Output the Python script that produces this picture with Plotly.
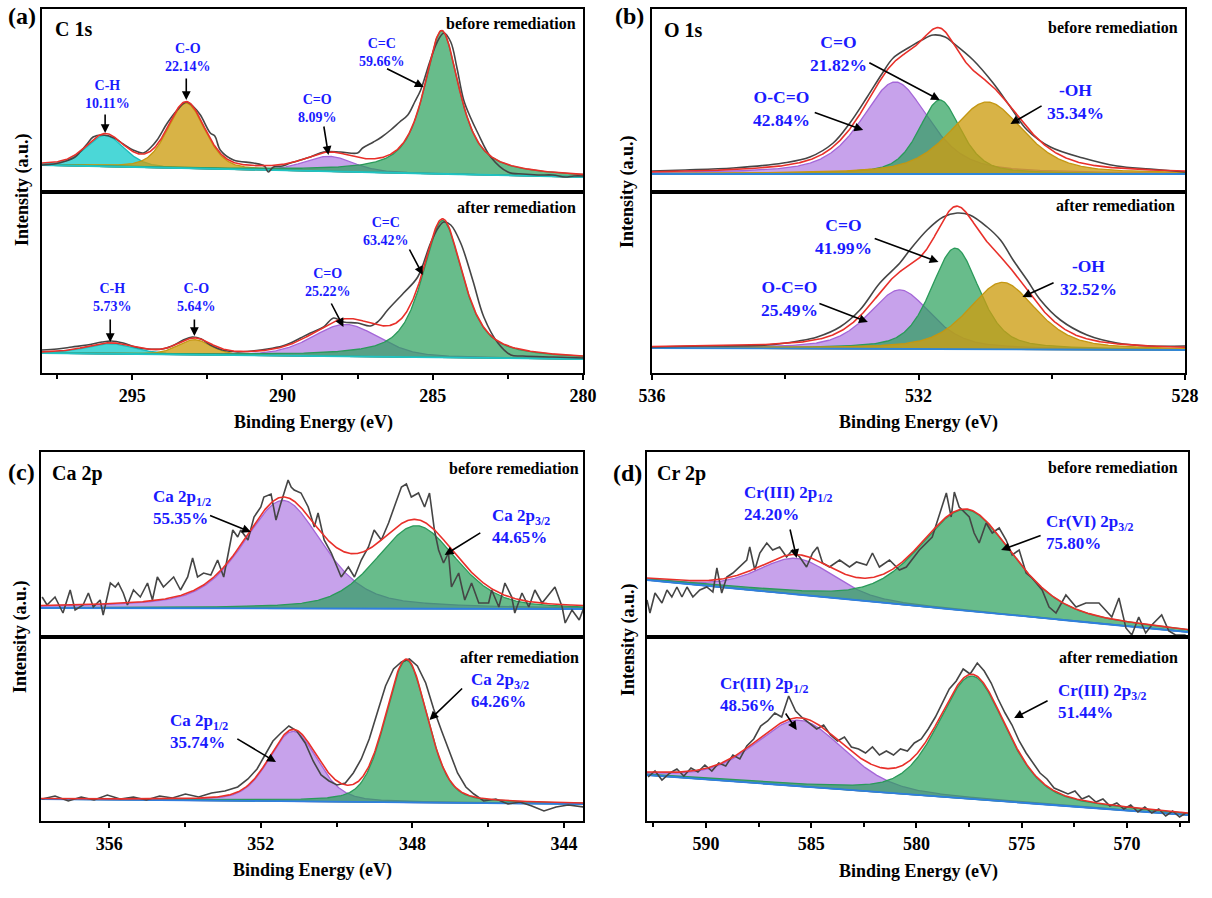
import numpy as np
import plotly.graph_objects as go

FONT = "Liberation Serif, Times New Roman, serif"
LABEL_BLUE = "#1a1aff"

# ======================= DATA =======================
# ---------- (a) C 1s ----------
a_range = [298.0, 280.0]
a_colors = ["cyan", "gold", "purple", "green"]
a_names = ["C-H", "C-O", "C=O", "C=C"]
a1_pct = ["10.11%", "22.14%", "8.09%", "59.66%"]
a1_center = [295.9, 293.2, 288.45, 284.7]
a1_height = [31, 65, 15, 143]
a1_fwhm = [1.5, 1.45, 1.9, 1.4]
a1_mix = [0.3, 0.3, 0.3, 0.8]
a1_bg = [27, 15]
a1_exp_E = [298.0, 297.6, 297.2, 296.9, 296.73, 296.5, 296.3, 295.97, 295.6, 295.3,
            294.97, 294.63, 294.4, 294.17, 293.83, 293.5, 293.2, 292.95, 292.73, 292.4,
            292.25, 292.07, 291.63, 290.97, 290.6, 290.47, 290.3, 290.0, 289.73, 289.07,
            288.63, 288.07, 287.5, 287.33, 286.97, 286.7, 286.4, 286.1, 285.83, 285.6,
            285.4, 285.1, 284.85, 284.63, 284.4, 284.2, 283.97, 283.75, 283.5, 283.07,
            282.5, 282.0, 281.5, 281.0, 280.6, 280.3, 280.0]
a1_exp_I = [27, 28, 31, 35, 40, 48, 55, 57, 54, 48,
            42, 39, 44, 52, 69, 82, 90, 85, 77, 59,
            56, 42, 32, 29, 26, 20, 25, 26, 29, 35,
            40, 40, 39, 44, 50, 55, 62, 70, 77, 90,
            102, 130, 150, 159, 150, 125, 92, 75, 59, 35,
            20, 18, 17, 17, 15, 16, 16]

a2_pct = ["5.73%", "5.64%", "25.22%", "63.42%"]
a2_center = [295.73, 292.93, 287.9, 284.67]
a2_height = [10, 15, 32, 137]
a2_fwhm = [1.9, 1.3, 2.6, 1.6]
a2_mix = [0.3, 0.3, 0.3, 0.7]
a2_bg = [20, 14]
a2_exp_E = [298.0, 297.5, 297.0, 296.5, 296.0, 295.7, 295.3, 294.9, 294.5, 294.0,
            293.6, 293.3, 293.0, 292.7, 292.4, 292.0, 291.5, 291.0, 290.5, 290.0,
            289.73, 289.4, 289.07, 288.63, 288.3, 287.97, 287.5, 287.07, 286.8, 286.5,
            285.97, 285.5, 285.07, 284.8, 284.63, 284.4, 284.07, 283.67, 283.3, 282.83,
            282.4, 282.0, 281.0, 280.0]
a2_exp_I = [23, 24, 26, 28, 31, 32, 30, 26, 24, 24,
            28, 33, 36, 34, 28, 23, 21, 22, 24, 27,
            30, 35, 40, 46, 55, 51, 50, 47, 52, 63,
            80, 96, 130, 146, 151, 148, 130, 93, 56, 30,
            18, 17, 16, 15]

# ---------- (b) O 1s ----------
b_range = [536.0, 528.0]
b_colors = ["purple", "green", "gold"]
b_names = ["O-C=O", "C=O", "-OH"]
b1_pct = ["42.84%", "21.82%", "35.34%"]
b1_center = [532.35, 531.68, 530.97]
b1_height = [92, 74, 72]
b1_fwhm = [1.2, 0.75, 1.3]
b1_mix = [0.55, 0.5, 0.5]
b1_bg = [18, 18]
b1_exp_E = [536.0, 535.5, 534.78, 534.03, 533.63, 533.28, 533.03, 532.77, 532.55, 532.38,
            532.13, 531.95, 531.78, 531.6, 531.48, 531.18, 530.88, 530.62, 530.37, 530.02,
            529.53, 529.02, 528.52, 528.0]
b1_exp_I = [21, 22, 24, 29, 35, 49, 69, 95, 118, 134,
            145, 152, 157, 155, 149, 132, 109, 85, 62, 45,
            34, 26, 23, 20]

b2_pct = ["25.49%", "41.99%", "32.52%"]
b2_center = [532.28, 531.45, 530.74]
b2_height = [59, 101, 67]
b2_fwhm = [1.1, 0.85, 1.2]
b2_mix = [0.5, 0.45, 0.5]
b2_bg = [25, 23]
b2_exp_E = [536.0, 535.2, 534.27, 533.8, 533.52, 533.18, 532.88, 532.58, 532.28, 532.13,
            531.87, 531.63, 531.42, 531.23, 530.97, 530.77, 530.58, 530.37, 530.17, 529.87,
            529.47, 529.02, 528.52, 528.0]
b2_exp_I = [26, 27, 28, 32, 36, 46, 63, 90, 110, 123,
            143, 156, 160, 158, 146, 133, 113, 93, 73, 53,
            38, 30, 27, 27]

# ---------- (c) Ca 2p ----------
c_range = [357.8, 343.5]
c_colors = ["purple", "green"]
c_names = ["Ca 2p<sub>1/2</sub>", "Ca 2p<sub>3/2</sub>"]
c1_pct = ["55.35%", "44.65%"]
c1_center = [351.42, 347.9]
c1_height = [108, 83]
c1_fwhm = [2.5, 2.5]
c1_mix = [0.5, 0.35]
c1_bg = [29, 28]
c1_exp_E = [357.77, 357.64, 357.43, 357.22, 357.03, 356.90, 356.69, 356.55, 356.42, 356.24,
            356.16, 355.97, 355.84, 355.76, 355.63, 355.52, 355.36, 355.18, 354.99, 354.86,
            354.73, 354.57, 354.30, 354.12, 353.93, 353.80, 353.67, 353.51, 353.32, 353.14,
            352.98, 352.85, 352.74, 352.61, 352.53, 352.34, 352.18, 352.00, 351.92, 351.73,
            351.60, 351.47, 351.28, 351.20, 351.12, 350.94, 350.75, 350.59, 350.49, 350.33,
            350.14, 349.88, 349.69, 349.53, 349.35, 349.16, 349.01, 348.82, 348.63, 348.48,
            348.29, 348.16, 348.03, 347.84, 347.68, 347.55, 347.42, 347.31, 347.18, 347.05,
            346.97, 346.78, 346.62, 346.44, 346.25, 345.99, 345.91, 345.72, 345.56, 345.38,
            345.30, 345.11, 344.93, 344.77, 344.58, 344.24, 344.05, 343.97, 343.79, 343.60,
            343.47]
c1_exp_I = [40, 32, 40, 24, 47, 27, 32, 44, 30, 37,
            22, 54, 50, 54, 44, 32, 47, 40, 54, 37,
            60, 50, 60, 47, 60, 79, 60, 64, 62, 77,
            60, 87, 107, 100, 107, 97, 120, 130, 140, 143,
            117, 134, 157, 150, 147, 144, 130, 110, 124, 97,
            84, 60, 70, 60, 77, 90, 107, 97, 114, 130,
            150, 153, 140, 144, 130, 144, 107, 87, 74, 84,
            50, 64, 37, 54, 34, 34, 47, 30, 54, 40,
            24, 44, 30, 47, 34, 50, 30, 14, 27, 17,
            30]

c2_pct = ["35.74%", "64.26%"]
c2_center = [351.15, 348.16]
c2_height = [70, 142]
c2_fwhm = [1.5, 1.3]
c2_mix = [0.3, 0.3]
c2_bg = [22, 17]
c2_exp_E = [357.77, 357.43, 357.08, 356.74, 356.40, 356.05, 355.71, 355.36, 355.02, 354.67,
            354.33, 353.99, 353.64, 353.30, 352.95, 352.61, 352.34, 352.10, 351.89, 351.68,
            351.47, 351.26, 351.05, 350.83, 350.62, 350.41, 350.20, 349.99, 349.77, 349.56,
            349.35, 349.14, 348.93, 348.71, 348.50, 348.29, 348.08, 347.87, 347.65, 347.44,
            347.23, 347.02, 346.81, 346.59, 346.38, 346.12, 345.80, 345.48, 345.16, 344.85,
            344.53, 344.21, 343.89, 343.47]
c2_exp_I = [22, 25, 20, 24, 21, 26, 22, 24, 21, 25,
            23, 27, 24, 28, 30, 34, 42, 52, 66, 80,
            88, 95, 90, 78, 60, 46, 40, 36, 38, 48,
            62, 82, 108, 135, 152, 159, 162, 155, 138, 112,
            90, 68, 48, 34, 27, 20, 22, 17, 19, 15,
            10, 14, 16, 14]

# ---------- (d) Cr 2p ----------
d_range = [592.8, 567.1]
d_colors = ["purple", "green"]
d1_names = ["Cr(III) 2p<sub>1/2</sub>", "Cr(VI) 2p<sub>3/2</sub>"]
d1_pct = ["24.20%", "75.80%"]
d1_center = [585.69, 577.63]
d1_height = [36, 101]
d1_fwhm = [4.2, 5.2]
d1_mix = [0.3, 0.4]
d1_bg = [57, 5]
d1_exp_E = [592.80, 592.66, 592.42, 592.09, 591.85, 591.62, 591.38, 591.14, 590.90, 590.62,
            590.29, 589.96, 589.67, 589.48, 589.25, 589.01, 588.72, 588.39, 588.06, 587.92,
            587.68, 587.44, 587.11, 586.83, 586.50, 586.17, 585.88, 585.55, 585.22, 584.93,
            584.70, 584.46, 584.13, 583.65, 583.18, 582.85, 582.37, 582.09, 581.76, 581.28,
            580.81, 580.48, 579.86, 579.25, 578.77, 578.58, 578.35, 578.20, 577.97, 577.49,
            577.26, 577.02, 576.69, 576.40, 576.07, 575.74, 575.45, 575.12, 574.79, 574.51,
            574.03, 573.70, 573.37, 572.90, 572.42, 571.95, 571.33, 570.72, 570.38, 570.05,
            569.77, 569.44, 569.11, 568.82, 568.35, 568.01, 567.69, 567.21]
d1_exp_I = [37, 24, 44, 34, 47, 40, 50, 40, 50, 40,
            47, 50, 45, 69, 44, 60, 64, 70, 77, 90,
            67, 84, 94, 87, 90, 80, 87, 80, 70, 84,
            90, 74, 70, 77, 70, 75, 72, 84, 70, 77,
            67, 70, 87, 100, 130, 144, 120, 145, 130, 120,
            104, 94, 114, 104, 109, 97, 82, 87, 64, 59,
            47, 30, 24, 42, 30, 34, 34, 20, 39, 9,
            2, 20, 4, 12, 22, 6, 2, 2]

d2_names = ["Cr(III) 2p<sub>1/2</sub>", "Cr(III) 2p<sub>3/2</sub>"]
d2_pct = ["48.56%", "51.44%"]
d2_center = [585.55, 577.35]
d2_height = [66, 123]
d2_fwhm = [5.0, 3.8]
d2_mix = [0.3, 0.4]
d2_bg = [46, 6]
d2_exp_E = [592.75, 592.42, 592.09, 591.71, 591.38, 591.05, 590.71, 590.38, 590.05, 589.72,
            589.39, 589.06, 588.72, 588.39, 588.06, 587.73, 587.40, 587.07, 586.73, 586.40,
            586.07, 585.74, 585.41, 585.08, 584.74, 584.41, 584.08, 583.75, 583.42, 583.09,
            582.75, 582.42, 582.09, 581.76, 581.43, 581.09, 580.76, 580.43, 580.10, 579.77,
            579.44, 579.10, 578.77, 578.44, 578.11, 577.78, 577.45, 577.11, 576.78, 576.45,
            576.12, 575.79, 575.46, 575.12, 574.79, 574.46, 574.13, 573.80, 573.46, 573.13,
            572.80, 572.47, 572.14, 571.81, 571.47, 571.14, 570.81, 570.48, 570.15, 569.82,
            569.48, 569.15, 568.82, 568.49, 568.16, 567.83, 567.50, 567.21]
d2_exp_I = [44, 50, 41, 48, 52, 45, 53, 49, 56, 50,
            58, 55, 66, 62, 75, 82, 95, 100, 108, 104,
            125, 110, 103, 98, 92, 96, 86, 80, 84, 74,
            72, 68, 74, 66, 70, 66, 72, 70, 78, 82,
            92, 104, 118, 132, 140, 152, 147, 158, 150, 138,
            122, 108, 96, 80, 68, 58, 48, 42, 33, 30,
            27, 30, 22, 25, 19, 22, 15, 18, 12, 16,
            9, 14, 8, 12, 5, 10, 4, 8]

# ======================= STYLE / LAYOUT =======================
FILLS = {
    "cyan": ("rgba(30,205,205,0.80)", "#1cbaba"),
    "gold": ("rgba(205,158,18,0.78)", "#c49712"),
    "purple": ("rgba(165,105,222,0.62)", "#a466d8"),
    "green": ("rgba(40,160,90,0.70)", "#2a9a5a"),
}
BG_COLOR = {"a": "#20c4c4", "b": "#2f86d8", "c": "#2f7fe0", "d": "#2f7fe0"}
W, H = 1212, 898


def pv(E, c, h, w, m):
    d = (E - c) / w
    return h * (m / (1 + 4 * d ** 2) + (1 - m) * np.exp(-4 * np.log(2) * d ** 2))


specs = [
    dict(k=1, p="a", xr=a_range, ypx=(9, 192), xpx=(42, 583), bottom=False,
         colors=a_colors, cen=a1_center, hgt=a1_height, fw=a1_fwhm, mx=a1_mix, bg=a1_bg,
         eE=a1_exp_E, eI=a1_exp_I, smooth=True),
    dict(k=2, p="a", xr=a_range, ypx=(192, 373), xpx=(42, 583), bottom=True,
         colors=a_colors, cen=a2_center, hgt=a2_height, fw=a2_fwhm, mx=a2_mix, bg=a2_bg,
         eE=a2_exp_E, eI=a2_exp_I, smooth=True),
    dict(k=3, p="b", xr=b_range, ypx=(9, 192), xpx=(652, 1185), bottom=False,
         colors=b_colors, cen=b1_center, hgt=b1_height, fw=b1_fwhm, mx=b1_mix, bg=b1_bg,
         eE=b1_exp_E, eI=b1_exp_I, smooth=True),
    dict(k=4, p="b", xr=b_range, ypx=(192, 373), xpx=(652, 1185), bottom=True,
         colors=b_colors, cen=b2_center, hgt=b2_height, fw=b2_fwhm, mx=b2_mix, bg=b2_bg,
         eE=b2_exp_E, eI=b2_exp_I, smooth=True),
    dict(k=5, p="c", xr=c_range, ypx=(452, 637), xpx=(41, 583), bottom=False,
         colors=c_colors, cen=c1_center, hgt=c1_height, fw=c1_fwhm, mx=c1_mix, bg=c1_bg,
         eE=c1_exp_E, eI=c1_exp_I, smooth=False),
    dict(k=6, p="c", xr=c_range, ypx=(637, 821), xpx=(41, 583), bottom=True,
         colors=c_colors, cen=c2_center, hgt=c2_height, fw=c2_fwhm, mx=c2_mix, bg=c2_bg,
         eE=c2_exp_E, eI=c2_exp_I, smooth=False),
    dict(k=7, p="d", xr=d_range, ypx=(452, 637), xpx=(647, 1188), bottom=False,
         colors=d_colors, cen=d1_center, hgt=d1_height, fw=d1_fwhm, mx=d1_mix, bg=d1_bg,
         eE=d1_exp_E, eI=d1_exp_I, smooth=False),
    dict(k=8, p="d", xr=d_range, ypx=(637, 821), xpx=(647, 1188), bottom=True,
         colors=d_colors, cen=d2_center, hgt=d2_height, fw=d2_fwhm, mx=d2_mix, bg=d2_bg,
         eE=d2_exp_E, eI=d2_exp_I, smooth=False),
]

TICKS = {"a": (5, 2.5), "b": (4, 2), "c": (4, 2), "d": (5, 2.5)}

fig = go.Figure()
layout = dict(width=W, height=H, margin=dict(l=0, r=0, t=0, b=0, pad=0, autoexpand=False),
              autosize=False, paper_bgcolor="white", plot_bgcolor="white", showlegend=False,
              font=dict(family=FONT, color="black"))

for s in specs:
    k = s["k"]
    xa = "x" if k == 1 else f"x{k}"
    ya = "y" if k == 1 else f"y{k}"
    E = np.linspace(s["xr"][0], s["xr"][1], 700)
    bg = s["bg"][0] + (s["bg"][1] - s["bg"][0]) * (E - s["xr"][0]) / (s["xr"][1] - s["xr"][0])
    total = np.zeros_like(E)
    for col, c, h, w, m in zip(s["colors"], s["cen"], s["hgt"], s["fw"], s["mx"]):
        comp = pv(E, c, h, w, m)
        total += comp
        fig.add_trace(go.Scatter(
            x=np.concatenate([E, E[::-1]]), y=np.concatenate([bg + comp, bg[::-1]]),
            xaxis=xa, yaxis=ya, mode="lines", fill="toself", fillcolor=FILLS[col][0],
            line=dict(color=FILLS[col][1], width=1.3), hoverinfo="skip"))
    fig.add_trace(go.Scatter(x=E, y=bg, xaxis=xa, yaxis=ya, mode="lines",
                             line=dict(color=BG_COLOR[s["p"]], width=1.8)))
    fig.add_trace(go.Scatter(x=s["eE"], y=s["eI"], xaxis=xa, yaxis=ya, mode="lines",
                             line=dict(color="#454545", width=1.6,
                                       shape="spline" if s["smooth"] else "linear")))
    fig.add_trace(go.Scatter(x=E, y=bg + total, xaxis=xa, yaxis=ya, mode="lines",
                             line=dict(color="#e8302a", width=1.6)))

    dtick, mtick = TICKS[s["p"]]
    h_px = s["ypx"][1] - s["ypx"][0]
    xaxis = dict(domain=[s["xpx"][0] / W, s["xpx"][1] / W], range=s["xr"], anchor=ya,
                 showline=True, mirror=True, linecolor="black", linewidth=2,
                 showgrid=False, zeroline=False, automargin=False)
    if s["bottom"]:
        xaxis.update(ticks="outside", ticklen=5, tickwidth=2, tickcolor="black",
                     tick0=0, dtick=dtick, showticklabels=True,
                     tickfont=dict(family=FONT, size=18, color="black", weight="bold"),
                     minor=dict(ticks="outside", ticklen=4, tickwidth=2, tickcolor="black",
                                tick0=0, dtick=mtick))
    else:
        xaxis.update(ticks="", showticklabels=False)
    yaxis = dict(domain=[1 - s["ypx"][1] / H, 1 - s["ypx"][0] / H], range=[0, h_px],
                 anchor=xa, showline=True, mirror=True, linecolor="black", linewidth=2,
                 ticks="", showticklabels=False, showgrid=False, zeroline=False,
                 automargin=False)
    layout["xaxis" if k == 1 else f"xaxis{k}"] = xaxis
    layout["yaxis" if k == 1 else f"yaxis{k}"] = yaxis

ann = []


def txt(k, x, y, text, size, color="black", xanchor="center", align="center"):
    xa = "x" if k == 1 else f"x{k}"
    ya = "y" if k == 1 else f"y{k}"
    ann.append(dict(x=x, y=y, xref=xa, yref=ya, text=f"<b>{text}</b>", showarrow=False,
                    xanchor=xanchor, yanchor="middle", align=align,
                    font=dict(family=FONT, size=size, color=color)))


def arrow(k, tail, head):
    xa = "x" if k == 1 else f"x{k}"
    ya = "y" if k == 1 else f"y{k}"
    ann.append(dict(x=head[0], y=head[1], ax=tail[0], ay=tail[1], xref=xa, yref=ya,
                    axref=xa, ayref=ya, text="", showarrow=True, arrowhead=2,
                    arrowsize=1.1, arrowwidth=1.6, arrowcolor="black"))


# --- peak labels: (text centre/left, arrow tail, arrow head)
label_pos = {
    1: [((295.83, 98), (295.9, 79), (295.9, 59)),
        ((293.13, 135), (293.2, 115), (293.2, 92)),
        ((288.83, 84), (288.63, 67), (288.47, 37)),
        ((286.7, 140), (286.57, 124), (285.3, 105))],
    2: [((295.67, 76), (295.73, 55), (295.73, 31)),
        ((292.87, 76), (292.93, 55), (292.93, 37)),
        ((288.5, 91), (288.4, 71), (287.97, 46)),
        ((286.57, 141), (285.8, 125), (285.33, 98))],
    3: [((534.05, 84), (533.58, 80), (532.83, 62)),
        ((533.2, 139), (532.76, 130), (531.68, 92)),
        ((529.65, 91), (530.13, 87), (530.62, 68))],
    4: [((533.93, 75), (533.51, 70), (532.76, 51)),
        ((533.13, 136), (532.68, 135), (531.7, 111)),
        ((529.45, 96), (529.95, 91), (530.44, 76))],
    5: [((354.91, 130), (353.38, 122), (352.26, 105)),
        ((345.96, 111), (346.17, 105), (347.15, 82))],
    6: [((354.44, 90), (352.66, 83), (351.6, 59)),
        ((346.5, 131), (346.65, 134), (347.55, 101))],
    7: [((588.3, 134), (586.02, 109), (585.69, 79)),
        ((573.94, 105), (574.03, 102), (575.98, 87))],
    8: [((589.44, 127), (586.26, 109), (585.69, 91)),
        ((573.37, 120), (573.7, 121), (575.36, 103))],
}
label_text = {
    1: a_names, 2: a_names, 3: b_names, 4: b_names,
    5: c_names, 6: c_names, 7: d1_names, 8: d2_names,
}
label_pct = {1: a1_pct, 2: a2_pct, 3: b1_pct, 4: b2_pct,
             5: c1_pct, 6: c2_pct, 7: d1_pct, 8: d2_pct}
label_size = {1: 14, 2: 14, 3: 17.5, 4: 17.5, 5: 17, 6: 17, 7: 17, 8: 17}

for k, items in label_pos.items():
    for (tpos, tail, head), name, pct in zip(items, label_text[k], label_pct[k]):
        left = k >= 5
        txt(k, tpos[0], tpos[1], f"{name}<br>{pct}", label_size[k], LABEL_BLUE,
            xanchor="left" if left else "center", align="left" if left else "center")
        arrow(k, tail, head)

corner = {1: ("C 1s", 297.63, 163), 3: ("O 1s", 535.85, 162),
          5: ("Ca 2p", 357.56, 164), 7: ("Cr 2p", 592.42, 164)}
for k, (t, x, y) in corner.items():
    txt(k, x, y, t, 20, xanchor="left", align="left")

state = {1: ("before remediation", 280.17, 169), 2: ("after remediation", 280.17, 165),
         3: ("before remediation", 528.07, 165), 4: ("after remediation", 528.12, 167),
         5: ("before remediation", 343.55, 169), 6: ("after remediation", 343.55, 164),
         7: ("before remediation", 567.5, 170), 8: ("after remediation", 567.5, 164)}
for k, (t, x, y) in state.items():
    txt(k, x, y, t, 16, xanchor="right", align="right")


def paper(xp, yp, text, size, angle=0):
    ann.append(dict(x=xp / W, y=1 - yp / H, xref="paper", yref="paper", text=f"<b>{text}</b>",
                    showarrow=False, xanchor="center", yanchor="middle", textangle=angle,
                    font=dict(family=FONT, size=size, color="black")))


paper(22, 16, "(a)", 24)
paper(629, 16, "(b)", 24)
paper(21, 472, "(c)", 24)
paper(627, 473, "(d)", 24)
for xp, yp in [(22, 190), (628, 192), (20, 637), (628, 640)]:
    paper(xp, yp, "Intensity (a.u.)", 18, angle=-90)
for xp, yp in [(313, 422), (918, 422), (312, 870), (918, 871)]:
    paper(xp, yp, "Binding Energy (eV)", 18)

layout["annotations"] = ann
fig.update_layout(**layout)
fig.write_html("out.html")
